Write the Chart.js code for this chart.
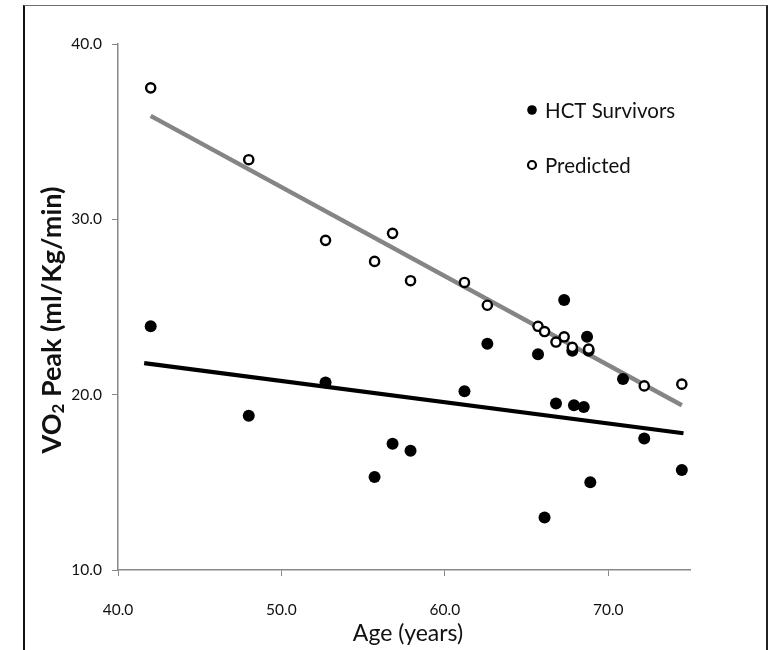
<!DOCTYPE html>
<html>
<head>
<meta charset="utf-8">
<script src="https://cdn.jsdelivr.net/npm/chart.js@4.4.1/dist/chart.umd.min.js"></script>
<style>
  html, body { margin: 0; padding: 0; background: #fff; }
  #wrap { position: relative; width: 777px; height: 650px; overflow: hidden; }
  #frame { position: absolute; left: 23px; top: 5px; width: 741px; height: 700px;
           border-left: 2px solid #111; border-right: 2px solid #222; border-top: 1px solid #6e6e6e; }
  canvas { position: absolute; left: 0; top: 0; }
</style>
</head>
<body>
<div id="wrap">
  <div id="frame"></div>
  <canvas id="c" width="777" height="650"></canvas>
</div>
<script>
// Age of each participant (years)
const ages = [42.0, 48.0, 52.7, 55.7, 56.8, 57.9, 61.2, 62.6, 65.7, 66.1, 66.8, 67.3, 67.8, 67.9, 68.5, 68.7, 68.8, 68.9, 70.9, 72.2, 74.5];
// Measured VO2 peak of HCT survivors (ml/Kg/min)
const survivors = [23.9, 18.8, 20.7, 15.3, 17.2, 16.8, 20.2, 22.9, 22.3, 13.0, 19.5, 25.4, 22.5, 19.4, 19.3, 23.3, 22.5, 15.0, 20.9, 17.5, 15.7];
// Age-predicted VO2 peak (ml/Kg/min)
const predicted = [37.5, 33.4, 28.8, 27.6, 29.2, 26.5, 26.4, 25.1, 23.9, 23.6, 23.0, 23.3, 22.7, null, null, null, 22.6, null, null, 20.5, 20.6];

// Linear trend lines: [start, end] ages and fitted values
const trendAges = { survivors: [41.6, 74.6], predicted: [42.0, 74.5] };
const trendValues = { survivors: [21.8, 17.8], predicted: [35.9, 19.4] };

const xTicks = [40, 50, 60, 70];
const yTicks = [10, 20, 30, 40];
const legendLabels = ['HCT Survivors', 'Predicted'];
const xTitle = 'Age (years)';

const pts = (xs, ys) => xs.map((x, i) => ({ x, y: ys[i] })).filter(p => p.y !== null);

const FONT = 'Lato';

// Axis titles and the in-plot legend
const annotations = {
  id: 'annotations',
  afterDraw(chart) {
    const ctx = chart.ctx;
    const area = chart.chartArea;
    ctx.save();
    ctx.fillStyle = '#111';

    // x title
    ctx.font = `23px ${FONT}`;
    ctx.textAlign = 'center';
    ctx.textBaseline = 'middle';
    ctx.fillText(xTitle, (area.left + area.right) / 2 + 4, 634);

    // y title with subscript 2
    ctx.save();
    ctx.translate(52, (area.top + area.bottom) / 2 + 13);
    ctx.rotate(-Math.PI / 2);
    ctx.textBaseline = 'middle';
    ctx.textAlign = 'left';
    const big = `bold 27px ${FONT}`, small = `bold 17px ${FONT}`;
    const parts = [['VO', big, 0], ['2', small, 7], [' Peak (ml/Kg/min)', big, 0]];
    let total = 0;
    parts.forEach(([t, f]) => { ctx.font = f; total += ctx.measureText(t).width; });
    let x = -total / 2;
    parts.forEach(([t, f, dy]) => { ctx.font = f; ctx.fillText(t, x, dy); x += ctx.measureText(t).width; });
    ctx.restore();

    // legend
    ctx.font = `20.5px ${FONT}`;
    ctx.textAlign = 'left';
    ctx.textBaseline = 'middle';
    const lx = 532, rows = [110, 165];
    ctx.fillStyle = '#000';
    ctx.beginPath(); ctx.arc(lx, rows[0], 4.8, 0, Math.PI * 2); ctx.fill();
    ctx.beginPath(); ctx.arc(lx, rows[1], 4, 0, Math.PI * 2);
    ctx.lineWidth = 2.2; ctx.strokeStyle = '#000'; ctx.fillStyle = '#fff'; ctx.fill(); ctx.stroke();
    ctx.fillStyle = '#111';
    ctx.fillText(legendLabels[0], 545, rows[0] + 1);
    ctx.fillText(legendLabels[1], 545, rows[1] + 1);
    ctx.restore();
  }
};

new Chart(document.getElementById('c'), {
  type: 'scatter',
  data: {
    datasets: [
      {
        label: legendLabels[0],
        data: pts(ages, survivors),
        pointRadius: 6,
        pointBackgroundColor: '#000',
        pointBorderWidth: 0,
        order: 1
      },
      {
        label: legendLabels[1],
        data: pts(ages, predicted),
        pointRadius: 4.6,
        pointBackgroundColor: '#fff',
        pointBorderColor: '#000',
        pointBorderWidth: 2.4,
        order: 0
      },
      {
        type: 'line',
        data: pts(trendAges.predicted, trendValues.predicted),
        borderColor: '#858585',
        borderWidth: 4.5,
        pointRadius: 0,
        order: 3
      },
      {
        type: 'line',
        data: pts(trendAges.survivors, trendValues.survivors),
        borderColor: '#000',
        borderWidth: 4.2,
        pointRadius: 0,
        order: 2
      }
    ]
  },
  options: {
    responsive: false,
    animation: false,
    layout: { padding: { top: 44, right: 87, left: 0, bottom: 0 } },
    plugins: { legend: { display: false }, tooltip: { enabled: false } },
    scales: {
      x: {
        type: 'linear',
        min: 40, max: 75,
        afterFit(s) { s.height = 80; },
        afterBuildTicks(s) { s.ticks = xTicks.map(v => ({ value: v })); },
        grid: { display: true, drawOnChartArea: false, drawTicks: true, tickLength: 6, color: '#888' },
        border: { color: '#888', width: 1.5 },
        ticks: { color: '#111', font: { family: FONT, size: 15.5 }, padding: 25,
                 callback: v => v.toFixed(1) }
      },
      y: {
        type: 'linear',
        min: 10, max: 40,
        afterFit(s) { s.width = 118; },
        afterBuildTicks(s) { s.ticks = yTicks.map(v => ({ value: v })); },
        grid: { display: true, drawOnChartArea: false, drawTicks: true, tickLength: 6, color: '#888' },
        border: { color: '#888', width: 1.5 },
        ticks: { color: '#111', font: { family: FONT, size: 15.5 }, padding: 10,
                 callback: v => v.toFixed(1) }
      }
    }
  },
  plugins: [annotations]
});
</script>
</body>
</html>
